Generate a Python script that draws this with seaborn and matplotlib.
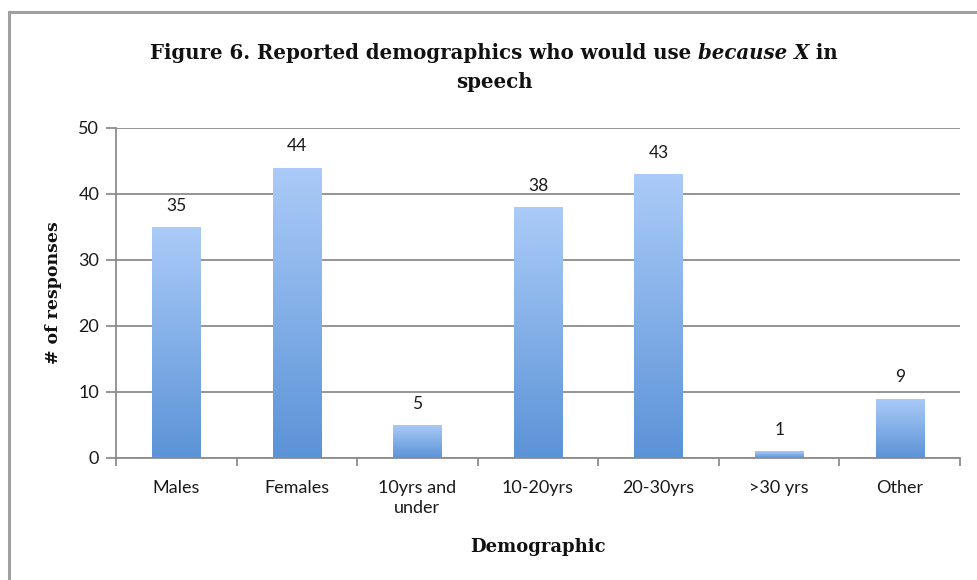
import numpy as np
import pandas as pd
import matplotlib
matplotlib.use("Agg")
import matplotlib.pyplot as plt
import seaborn as sns
from matplotlib.colors import LinearSegmentedColormap
from matplotlib.patches import Rectangle

categories = ["Males", "Females", "10yrs and\nunder", "10-20yrs", "20-30yrs", ">30 yrs", "Other"]
responses = [35, 44, 5, 38, 43, 1, 9]
yticks = [0, 10, 20, 30, 40, 50]

df = pd.DataFrame({"Demographic": categories, "Responses": responses})

sns.set_theme(style="white")
plt.rcParams["font.family"] = ["Lato", "DejaVu Sans"]
serif = ["DejaVu Serif"]

fig = plt.figure(figsize=(9.77, 5.80), dpi=100)
ax = fig.add_axes([116/977, 1 - 458/580, (960 - 116)/977, (458 - 128)/580])

sns.barplot(data=df, x="Demographic", y="Responses", ax=ax, width=0.4,
            color="#7aa7e6", linewidth=0, saturation=1)

# gradient fill per bar
cmap = LinearSegmentedColormap.from_list("g", ["#5b93d7", "#abcbf8"])
grad = np.linspace(0, 1, 256).reshape(-1, 1)
for p in list(ax.patches):
    x0, y0 = p.get_x(), p.get_y()
    w, h = p.get_width(), p.get_height()
    p.set_facecolor("none")
    im = ax.imshow(grad, extent=[x0, x0 + w, y0, y0 + h], origin="lower",
                   cmap=cmap, aspect="auto", zorder=3)
    im.set_clip_path(p)
    ax.text(x0 + w / 2, h + 2.0, f"{int(h)}", ha="center", va="bottom",
            fontsize=12.5, color="#1a1a1a", zorder=4)
ax.set_xlim(-0.5, len(categories) - 0.5)
ax.set_ylim(0, 50)
ax.set_yticks(yticks)

# gridlines
ax.yaxis.grid(True, color="#8c8c8c", linewidth=1.3, zorder=0)
ax.set_axisbelow(True)
for s in ["top", "right"]:
    ax.spines[s].set_visible(False)
for s in ["left", "bottom"]:
    ax.spines[s].set_color("#8c8c8c")
    ax.spines[s].set_linewidth(1.3)

ax.tick_params(axis="y", which="major", direction="out", length=7, width=1.3,
               color="#8c8c8c", labelsize=13, labelcolor="#1a1a1a", left=True, pad=5)
ax.set_xticks(range(len(categories)))
ax.set_xticklabels(categories, fontsize=13, color="#1a1a1a", linespacing=1.3)
ax.tick_params(axis="x", which="major", length=0, pad=16)
ax.set_xticks(np.arange(-0.5, len(categories), 1), minor=True)
ax.tick_params(axis="x", which="minor", direction="out", length=6, width=1.3,
               color="#8c8c8c", bottom=True)

ax.set_xlabel("Demographic", family=serif,
              fontweight="bold", fontsize=13, color="#111111", labelpad=16)
ax.set_ylabel("# of responses", family=serif,
              fontweight="bold", fontsize=12.5, color="#111111", labelpad=12)

# title with italic part, composed of pieces
parts = [("Figure 6. Reported demographics who would use ", "normal"),
         ("because X", "italic"),
         (" in", "normal")]
ty = 1 - 53/580
fig.canvas.draw()
renderer = fig.canvas.get_renderer()
texts = []
for s, st in parts:
    t = fig.text(0, ty, s, ha="left", va="center", fontsize=14.2, fontweight="bold",
                 style=st, family=serif, color="#111111")
    texts.append(t)
widths = [t.get_window_extent(renderer).width for t in texts]
total = sum(widths)
xpix = 494 - total / 2
for t, w in zip(texts, widths):
    t.set_x(xpix / 977)
    xpix += w
fig.text(494/977, 1 - 82/580, "speech", ha="center", va="center", fontsize=14.2,
         fontweight="bold", family=serif, color="#111111")

# frame
fig.patches.append(Rectangle((9/977, -0.1), 1.2, 1.1 - 12/580, transform=fig.transFigure,
                             fill=False, edgecolor="#a0a0a0", linewidth=2.2, zorder=0))

fig.savefig("out.png", dpi=100)
